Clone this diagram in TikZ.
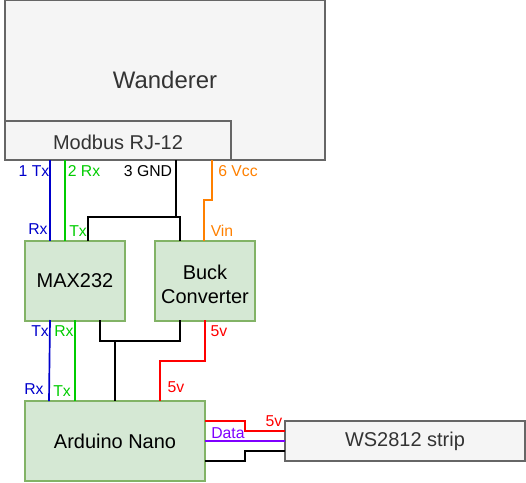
\documentclass[tikz,border=0pt]{standalone}
\usepackage{fontspec}
\setmainfont{Liberation Sans}
\definecolor{boxgreen}{HTML}{D5E8D4}
\definecolor{edgegreen}{HTML}{82B366}
\definecolor{boxgrey}{HTML}{F5F5F5}
\definecolor{edgegrey}{HTML}{666666}
\definecolor{textgrey}{HTML}{333333}
\definecolor{wireblue}{HTML}{0000CC}
\definecolor{wiregreen}{HTML}{00CC00}
\definecolor{wireorange}{HTML}{FF8000}
\definecolor{wirepurple}{HTML}{7F00FF}
\tikzset{
  greybox/.style={draw=edgegrey,fill=boxgrey,line width=1.2pt,text=textgrey,inner sep=0pt,outer sep=0pt},
  greenbox/.style={draw=edgegreen,fill=boxgreen,line width=1.2pt,text=black,align=center,inner sep=0pt,outer sep=0pt,font=\fontsize{14.2pt}{17pt}\selectfont},
  wire/.style={line width=1.2pt},
  pinlabel/.style={inner sep=0pt,font=\fontsize{11.2pt}{12pt}\selectfont}
}
\begin{document}
\begin{tikzpicture}[x=0.025cm,y=-0.025cm]
  \useasboundingbox (0,0) rectangle (526,482);
  % Wanderer with its connector
  \node [greybox,minimum width=8cm,minimum height=4cm,font=\fontsize{17pt}{17pt}\selectfont] (wanderer) at (165,80) {Wanderer};
  \node [greybox,minimum width=5.65cm,minimum height=0.975cm] (modbus) at (118,140.5) {};
  \node [text=textgrey,inner sep=0pt,font=\fontsize{14.2pt}{17pt}\selectfont] (modbustext) at (118,142) {Modbus RJ-12};
  % boards
  \node [greenbox,minimum width=2.5cm,minimum height=2cm] (max232) at (75,281) {MAX232};
  \node [greenbox,minimum width=2.5cm,minimum height=2cm] (buck) at (205,281) {};
  \node [align=center,inner sep=0pt,font=\fontsize{14.2pt}{17pt}\selectfont] (bucktext) at (205,284) {Buck\\Converter};
  \node [greenbox,minimum width=4.5cm,minimum height=2cm] (nano) at (115,441) {Arduino Nano};
  \node [greybox,minimum width=6cm,minimum height=1cm,font=\fontsize{14.2pt}{17pt}\selectfont] (strip) at (405,441) {WS2812 strip};
  % wire ends
  \coordinate (txtop) at (50,160);
  \coordinate (rxtop) at (65,160);
  \coordinate (gndtop) at (176,160);
  \coordinate (vcctop) at (212,160);
  \coordinate (gndleft) at (88,217);
  \coordinate (gndright) at (180,217);
  \coordinate (txbot) at (50,320);
  \coordinate (txnano) at (49,401);
  \coordinate (rxbot) at (75,320);
  \coordinate (gndbot) at (100,320);
  \coordinate (gndbuck) at (180,320);
  \coordinate (gndnano) at (115,401);
  \coordinate (fivebuck) at (205,320);
  \coordinate (fivenano) at (160,401);
  % Modbus to MAX232 and converter
  \draw [wire,wireblue] (txtop) -- (txtop |- max232.north);
  \draw [wire,wiregreen] (rxtop) -- (rxtop |- max232.north);
  \draw [wire,black] (gndtop) -- (gndtop |- gndleft);
  \draw [wire,black] (gndleft |- max232.north) -- (gndleft) -- (gndright) -- (gndright |- buck.north);
  \draw [wire,wireorange] (vcctop) -- (212,200) -- (204,200) -- (204,241);
  % MAX232 and converter to Nano
  \draw [wire,wireblue] (txbot) -- (txnano);
  \draw [wire,wiregreen] (rxbot) -- (rxbot |- nano.north);
  \draw [wire,black] (gndbot) -- (100,341) -- (180,341) -- (gndbuck);
  \draw [wire,black] (115,341) -- (gndnano);
  \draw [wire,red] (fivebuck) -- (205,361) -- (160,361) -- (fivenano);
  % Nano to strip
  \draw [wire,red] (nano.east |- 0,421) -- (245,421) -- (245,431) -- (strip.west |- 0,431);
  \draw [wire,wirepurple] (nano.east) -- (strip.west);
  \draw [wire,black] (nano.east |- 0,461) -- (245,461) -- (245,451) -- (strip.west |- 0,451);
  % labels
  \node [pinlabel,text=wireblue] (l1tx) at (34,171) {1 Tx};
  \node [pinlabel,text=wiregreen] (l2rx) at (84,171) {2 Rx};
  \node [pinlabel,text=black] (l3gnd) at (148,171) {3 GND};
  \node [pinlabel,text=wireorange] (l6vcc) at (238,171) {6 Vcc};
  \node [pinlabel,text=wireblue] (lrx) at (38,229) {Rx};
  \node [pinlabel,text=wiregreen] (ltx) at (78,231) {Tx};
  \node [pinlabel,text=wireorange] (lvin) at (222,231) {Vin};
  \node [pinlabel,text=wireblue] (ltxb) at (40,331) {Tx};
  \node [pinlabel,text=wiregreen] (lrxb) at (64,331) {Rx};
  \node [pinlabel,text=red] (l5va) at (219,331) {5v};
  \node [pinlabel,text=wireblue] (lrxn) at (34,389) {Rx};
  \node [pinlabel,text=wiregreen] (ltxn) at (62,391) {Tx};
  \node [pinlabel,text=red] (l5vb) at (176,387) {5v};
  \node [pinlabel,text=red] (l5vc) at (274,421) {5v};
  \node [pinlabel,text=wirepurple] (ldata) at (228,433) {Data};
\end{tikzpicture}
\end{document}
